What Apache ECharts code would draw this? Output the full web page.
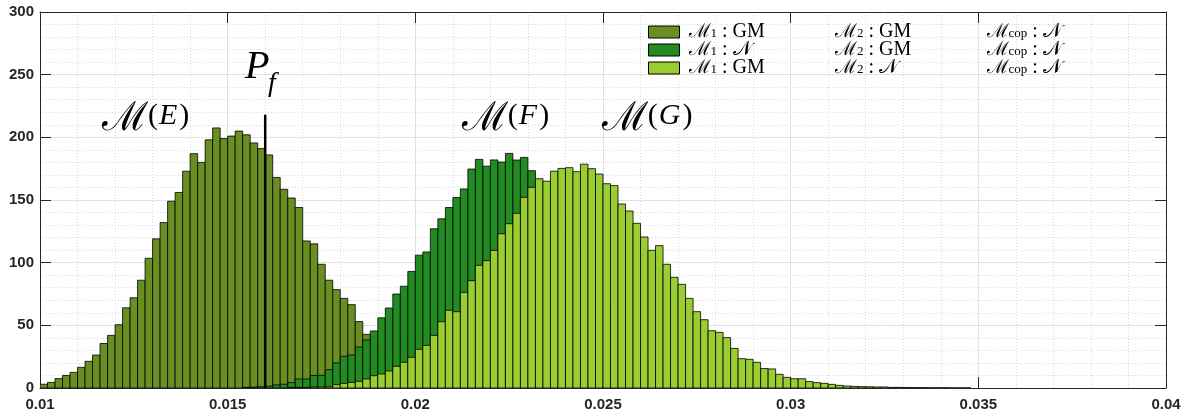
<!DOCTYPE html>
<html><head><meta charset="utf-8">
<script src="https://cdn.jsdelivr.net/npm/echarts@6/dist/echarts.min.js"></script>
<style>html,body{margin:0;padding:0;background:#fff}#c{width:1192px;height:414px}</style>
</head><body><div id="c"></div>
<script>
// ---- data ----
const binStart = 0.01;
const binWidth = 0.0002;
const seriesNames = ['E', 'F', 'G'];
const seriesColors = ['#6b8e23', '#228b22', '#9acd32'];
// first bin index of each series
const firstBinE = 0;
const firstBinF = 27;
const firstBinG = 33;
const valuesE = [3, 4.5, 7.5, 10, 12.5, 16.5, 21.3, 26.3, 35.5, 42, 50.5, 64, 72, 86, 103.5, 119, 132, 149, 156, 173,
  187, 180, 198, 207.5, 199, 201, 205, 202, 195.5, 191, 186, 168, 158.5, 151.6, 144, 117.3, 115, 98.7, 86, 78.5,
  71.5, 66.5, 53, 42.8, 35, 28, 22, 17, 12, 9, 6, 4, 3, 2, 1.5, 1, 0.5];
const valuesF = [0.5, 0.7, 1, 1.5, 2.5, 3, 4.3, 7.2, 7.2, 10, 10.1, 14.6, 20, 25.3, 26.3, 32.7, 38.3, 45.5, 56, 63.8,
  75, 81.2, 93, 106, 108.5, 127, 135, 144, 152, 158.8, 174.7, 182.4, 177, 182, 180.3, 187.2, 181.9, 184, 173.4, 163,
  155, 148, 138, 126, 115, 103, 90, 78, 66, 55, 45, 36, 28, 22, 17, 13, 9, 7, 5, 3.5, 2.5, 1.5, 1, 0.5];
const valuesG = [0.3, 0.5, 0.5, 0.8, 0.8, 1, 2.7, 3.7, 4.5, 5.3, 7.2, 9.8, 11.2, 13.6, 17.3, 20.5, 24.5, 30.9, 34, 42,
  52.9, 62, 60.9, 76.3, 85.6, 97.9, 101.6, 109.8, 123.1, 131.1, 139.4, 152.1, 160.1, 167, 165, 173, 175.2, 175.8, 172.6, 178.6,
  175, 170.7, 163, 161.5, 146.8, 141.2, 131.4, 120.5, 109.8, 113.6, 98.7, 88.3, 82.7, 71.5, 60.9, 54.5, 45.7, 44.4, 40.2, 31.6,
  23.4, 22.9, 20.5, 15.5, 15.2, 10.9, 8.5, 7.4, 7.4, 5.1, 4.3, 3.7, 2.9, 2.1, 1.6, 1.3, 1.1, 1, 0.8, 0.8,
  0.5, 0.5, 0.4, 0.3, 0.3, 0.2, 0.2, 0.2, 0.1, 0.1, 0.1];
const xMin = 0.01, xMax = 0.04, xStep = 0.005;
const yMin = 0, yMax = 300, yStep = 50;
// legend text columns
const legendM1 = ['GM', '\u{1D4A9}', 'GM'];
const legendM2 = ['GM', 'GM', '\u{1D4A9}'];
const legendCop = ['\u{1D4A9}', '\u{1D4A9}', '\u{1D4A9}'];
// annotations
const pfValue = 0.016;
const pfLineTop = 218;
const annotLetters = ['E', 'F', 'G'];
const annotX = [0.01165, 0.02124, 0.02497];
const annotY = [198, 198, 198];
const pfLabelX = 0.01546, pfLabelY = 240;

// ---- chart ----
function toBins(vals, first) {
  return vals.map((v, i) => [binStart + (first + i) * binWidth, binStart + (first + i + 1) * binWidth, v]);
}
const binsAll = [toBins(valuesE, firstBinE), toBins(valuesF, firstBinF), toBins(valuesG, firstBinG)];

const axisColor = '#262626';
const labelFont = { color: axisColor, fontSize: 15, fontWeight: 'bold', fontFamily: '"Liberation Sans", Arial, sans-serif' };

const chart = echarts.init(document.getElementById('c'), null, { renderer: 'canvas' });

const series = seriesNames.map((name, si) => ({
  name: name,
  type: 'custom',
  xAxisIndex: 0, yAxisIndex: 0,
  clip: true,
  itemStyle: { color: seriesColors[si], borderColor: '#000', borderWidth: 1 },
  encode: { x: [0, 1], y: 2 },
  data: binsAll[si],
  z: 2 + si,
  renderItem: function (params, api) {
    const v = api.value(2);
    if (!(v > 0)) return null;
    const p0 = api.coord([api.value(0), v]);
    const p1 = api.coord([api.value(1), 0]);
    return {
      type: 'rect',
      shape: { x: p0[0], y: p0[1], width: p1[0] - p0[0], height: p1[1] - p0[1] },
      style: { fill: seriesColors[si], stroke: 'rgba(0,0,0,0.8)', lineWidth: 1 }
    };
  }
}));
series.push({
  name: 'Pf',
  type: 'line',
  data: [[pfValue, 0], [pfValue, pfLineTop]],
  symbol: 'none',
  lineStyle: { color: '#000', width: 2.5 },
  z: 10,
  silent: true
});

const legendRich = {
  m: { fontFamily: '"DejaVu Serif", serif', fontSize: 19, lineHeight: 16, padding: [0, 0, 0, 4] },
  sub: { fontFamily: '"Liberation Serif", serif', fontSize: 13, lineHeight: 16, verticalAlign: 'bottom' },
  t1: { fontFamily: '"Liberation Serif", "DejaVu Serif", serif', fontSize: 20, lineHeight: 16, width: 118 },
  m2: { fontFamily: '"DejaVu Serif", serif', fontSize: 19, lineHeight: 16 },
  t2: { fontFamily: '"Liberation Serif", "DejaVu Serif", serif', fontSize: 20, lineHeight: 16, width: 123 },
  t3: { fontFamily: '"Liberation Serif", "DejaVu Serif", serif', fontSize: 20, lineHeight: 16 }
};

chart.setOption({
  animation: false,
  backgroundColor: '#fff',
  grid: { left: 40, right: 26, top: 12, bottom: 26, containLabel: false },
  xAxis: [{
    type: 'value', position: 'bottom', min: xMin, max: xMax, interval: xStep,
    axisLine: { show: true, onZero: false, lineStyle: { color: axisColor, width: 1 } },
    axisTick: { show: true, inside: true, length: 11, lineStyle: { color: axisColor } },
    axisLabel: Object.assign({ margin: 9, formatter: v => String(+v.toFixed(3)) }, labelFont),
    splitLine: { show: true, lineStyle: { color: '#e2e2e2', width: 1 } },
    minorTick: { show: false, splitNumber: 5 },
    minorSplitLine: { show: true, lineStyle: { color: '#d8d8d8', type: [1, 2], width: 1 } }
  }, {
    type: 'value', position: 'top', min: xMin, max: xMax, interval: xStep,
    axisLine: { show: true, onZero: false, lineStyle: { color: axisColor, width: 1 } },
    axisTick: { show: true, inside: true, length: 11, lineStyle: { color: axisColor } },
    axisLabel: { show: false }, splitLine: { show: false }
  }],
  yAxis: [{
    type: 'value', position: 'left', min: yMin, max: yMax, interval: yStep,
    axisLine: { show: true, onZero: false, lineStyle: { color: axisColor, width: 1 } },
    axisTick: { show: true, inside: true, length: 11, lineStyle: { color: axisColor } },
    axisLabel: Object.assign({ margin: 6 }, labelFont),
    splitLine: { show: true, lineStyle: { color: '#e2e2e2', width: 1 } },
    minorTick: { show: false, splitNumber: 5 },
    minorSplitLine: { show: true, lineStyle: { color: '#d8d8d8', type: [1, 2], width: 1 } }
  }, {
    type: 'value', position: 'right', min: yMin, max: yMax, interval: yStep,
    axisLine: { show: true, onZero: false, lineStyle: { color: axisColor, width: 1 } },
    axisTick: { show: true, inside: true, length: 11, lineStyle: { color: axisColor } },
    axisLabel: { show: false }, splitLine: { show: false }
  }],
  legend: {
    orient: 'vertical', left: 648, top: 22, padding: 0,
    itemWidth: 31, itemHeight: 12, itemGap: -2,
    icon: 'rect', selectedMode: false,
    data: seriesNames.map((n, i) => ({ name: n, itemStyle: { color: seriesColors[i], borderColor: '#000', borderWidth: 1 } })),
    formatter: function (name) {
      const i = seriesNames.indexOf(name);
      return '{m|\u2133}{sub|1}{t1| : ' + legendM1[i] + '}' +
             '{m2|\u2133}{sub|2}{t2| : ' + legendM2[i] + '}' +
             '{m2|\u2133}{sub|cop}{t3| : ' + legendCop[i] + '}';
    },
    textStyle: { color: '#000', rich: legendRich }
  },
  series: series
});

// annotations placed through the axis scales
const gfx = [];
const mathFont = '"Liberation Serif", "DejaVu Serif", serif';
annotLetters.forEach((L, i) => {
  const p = chart.convertToPixel({ xAxisIndex: 0, yAxisIndex: 0 }, [annotX[i], annotY[i]]);
  gfx.push({ type: 'text', x: p[0], y: p[1], z: 20,
    style: { text: '\u2133', font: '40px "DejaVu Serif", serif', fill: '#000', verticalAlign: 'bottom', align: 'left' } });
  gfx.push({ type: 'text', x: p[0] + 46, y: p[1] - 9, z: 20,
    style: { text: '{p|(}{i|' + L + '}{p|)}', fill: '#000', verticalAlign: 'bottom', align: 'left',
      rich: { p: { font: '30px ' + mathFont }, i: { font: 'italic 30px ' + mathFont, padding: [0, 2, 0, 1] } } } });
});
const pp = chart.convertToPixel({ xAxisIndex: 0, yAxisIndex: 0 }, [pfLabelX, pfLabelY]);
gfx.push({ type: 'text', x: pp[0], y: pp[1], z: 20,
  style: { text: 'P', font: 'italic 40px ' + mathFont, fill: '#000', verticalAlign: 'bottom', align: 'left' } });
gfx.push({ type: 'text', x: pp[0] + 23, y: pp[1] + 10, z: 20,
  style: { text: 'f', font: 'italic 28px ' + mathFont, fill: '#000', verticalAlign: 'bottom', align: 'left' } });
chart.setOption({ graphic: gfx });
</script>
</body></html>
